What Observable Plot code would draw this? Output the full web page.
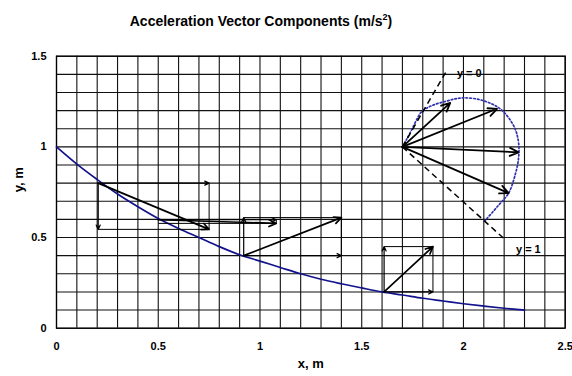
<!DOCTYPE html>
<html><head><meta charset="utf-8">
<script src="https://cdn.jsdelivr.net/npm/d3@7"></script>
<script src="https://cdn.jsdelivr.net/npm/@observablehq/plot@0.6"></script>
<style>
body{margin:0;background:#fff;font-family:"Liberation Sans",Arial,sans-serif;}
#wrap{position:relative;width:572px;height:376px;overflow:hidden;background:#fff;}
#title{position:absolute;left:0;top:11px;width:522px;text-align:center;font-weight:bold;font-size:14px;line-height:20px;white-space:nowrap;}
#title sup{font-size:9px;line-height:0;}
#chart{position:absolute;left:0;top:36px;}
</style></head><body>
<div id="wrap"><div id="title">Acceleration Vector Components (m/s<sup>2</sup>)</div><div id="chart"></div></div>
<script>
// Path of the particle
const pathX = [0,0.1,0.2,0.3,0.4,0.5,0.6,0.7,0.8,0.9,1.0,1.1,1.2,1.3,1.4,1.5,1.6,1.7,1.8,1.9,2.0,2.1,2.2,2.3];
const pathY = [1.00,0.905,0.82,0.74,0.67,0.605,0.55,0.50,0.45,0.405,0.37,0.335,0.30,0.27,0.245,0.222,0.20,0.183,0.165,0.15,0.135,0.122,0.11,0.10];

// Acceleration vectors at points along the path: origin and tip of the resultant
const vecNames = ["A","B","C","D"];
const vecX0 = [0.205, 0.50, 0.92, 1.61];
const vecY0 = [0.80, 0.598, 0.40, 0.20];
const vecX1 = [0.75, 1.08, 1.40, 1.85];
const vecY1 = [0.545, 0.578, 0.61, 0.45];

// Fan of acceleration vectors drawn from one point
const fanX0 = 1.70, fanY0 = 1.00;
const fanX1 = [1.935, 2.165, 2.271, 2.222];
const fanY1 = [1.243, 1.21, 0.97, 0.745];

// Reference dashed lines and their labels
const dashX1 = [1.92, 2.205];
const dashY1 = [1.425, 0.488];
const dashLabels = ["y = 0", "y = 1"];
const labelX = [1.968, 2.258];
const labelY = [1.403, 0.432];

// Dotted hodograph arc
const arcX = [1.70,1.72,1.746,1.77,1.796,1.85,1.91,1.96,2.00,2.06,2.11,2.16,2.20,2.24,2.26,2.272,2.27,2.255,2.222,2.17,2.107];
const arcY = [1.00,1.04,1.095,1.15,1.196,1.23,1.25,1.265,1.27,1.265,1.25,1.225,1.19,1.13,1.08,1.01,0.93,0.85,0.745,0.675,0.594];

const xTicks = [0,0.5,1,1.5,2,2.5];
const yTicks = [0,0.5,1,1.5];
const gridXs = d3.range(0, 26).map(i => i / 10);
const gridYs = d3.range(0, 16).map(i => i / 10);

const path = pathX.map((x, i) => ({x, y: pathY[i]}));
const vecs = vecNames.map((n, i) => ({n, x0: vecX0[i], y0: vecY0[i], x1: vecX1[i], y1: vecY1[i]}));
const fan = fanX1.map((x, i) => ({x0: fanX0, y0: fanY0, x1: x, y1: fanY1[i]}));
const dashes = dashX1.map((x, i) => ({x0: fanX0, y0: fanY0, x1: x, y1: dashY1[i]}));
const labels = dashLabels.map((t, i) => ({t, x: labelX[i], y: labelY[i]}));
const arc = arcX.map((x, i) => ({x, y: arcY[i]}));

const blue = "#12128c";

const plot = Plot.plot({
  width: 572, height: 340,
  marginLeft: 56, marginRight: 7.3, marginTop: 19.7, marginBottom: 48.3,
  style: {fontFamily: "'Liberation Sans', Arial, sans-serif", fontSize: "11px", fontWeight: "bold", overflow: "visible", background: "white", color: "#000"},
  x: {domain: [0, 2.5]},
  y: {domain: [0, 1.5]},
  marks: [
    Plot.gridX(gridXs, {stroke: "#111", strokeOpacity: 1, strokeWidth: 1.1}),
    Plot.gridY(gridYs, {stroke: "#111", strokeOpacity: 1, strokeWidth: 1.1}),
    Plot.frame({stroke: "#000", strokeWidth: 1.3}),
    Plot.axisX(xTicks, {tickSize: 0, tickPadding: 14, label: null, tickFormat: d => String(d)}),
    Plot.axisY(yTicks, {tickSize: 0, tickPadding: 10, label: null, tickFormat: d => String(d)}),
    Plot.text(["x, m"], {frameAnchor: "bottom", dy: 40, fontSize: 13, fontWeight: "bold"}),
    Plot.text(["y, m"], {frameAnchor: "left", dx: -38, rotate: -90, fontSize: 13, fontWeight: "bold"}),
    Plot.line(path, {x: "x", y: "y", stroke: blue, strokeWidth: 1.7, curve: "monotone-x"}),
    // rectangle closing sides (thin)
    Plot.link(vecs, {x1: "x1", y1: "y0", x2: "x1", y2: "y1", stroke: "#000", strokeWidth: 1}),
    Plot.link(vecs, {x1: "x0", y1: "y1", x2: "x1", y2: "y1", stroke: "#000", strokeWidth: 1}),
    // components
    Plot.arrow(vecs, {x1: "x0", y1: "y0", x2: "x1", y2: "y0", stroke: "#000", strokeWidth: 1.2, headLength: 6, headAngle: 50}),
    Plot.arrow(vecs.filter(d => Math.abs(d.y1 - d.y0) > 0.05), {x1: "x0", y1: "y0", x2: "x0", y2: "y1", stroke: "#000", strokeWidth: 1.2, headLength: 6, headAngle: 50}),
    // resultants
    Plot.arrow(vecs, {x1: "x0", y1: "y0", x2: "x1", y2: "y1", stroke: "#000", strokeWidth: 1.7, headLength: 7, headAngle: 50}),
    // hodograph arc
    Plot.line(arc, {x: "x", y: "y", stroke: "#3030b0", strokeWidth: 1.7, strokeDasharray: "1.6,2.2", curve: "catmull-rom"}),
    // dashed reference lines
    Plot.link(dashes, {x1: "x0", y1: "y0", x2: "x1", y2: "y1", stroke: "#000", strokeWidth: 1.5, strokeDasharray: "6,4"}),
    // fan arrows
    Plot.arrow(fan, {x1: "x0", y1: "y0", x2: "x1", y2: "y1", stroke: "#000", strokeWidth: 1.8, headLength: 8, headAngle: 50}),
    Plot.text(labels, {x: "x", y: "y", text: "t", textAnchor: "start", fontSize: 11, fontWeight: "bold", fill: "#000"})
  ]
});
document.getElementById("chart").appendChild(plot);
</script>
</body></html>
